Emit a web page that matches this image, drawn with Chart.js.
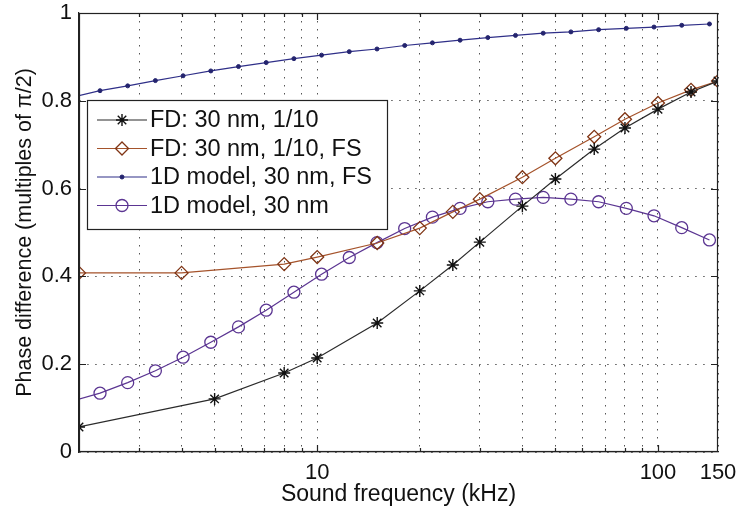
<!DOCTYPE html>
<html>
<head>
<meta charset="utf-8">
<script src="https://cdn.jsdelivr.net/npm/chart.js@4/dist/chart.umd.min.js"></script>
<style>
  html, body { margin: 0; padding: 0; background: #fff; }
</style>
</head>
<body>
<canvas id="phaseChart" width="740" height="513"></canvas>
<script>
// frequencies (kHz) of the FD simulations
const fdFreq   = [2, 5, 8, 10, 15, 20, 25, 30, 40, 50, 65, 80, 100, 125, 150];
const fsFreq   = [2, 4, 8, 10, 15, 20, 25, 30, 40, 50, 65, 80, 100, 125, 150];
const fdPhase  = [0.057, 0.121, 0.180, 0.214, 0.294, 0.367, 0.426, 0.478, 0.560, 0.622, 0.690, 0.738, 0.781, 0.820, 0.845];
const fsPhase  = [0.408, 0.408, 0.428, 0.444, 0.476, 0.510, 0.547, 0.576, 0.626, 0.669, 0.718, 0.758, 0.795, 0.825, 0.845];

// 1D model curves (first point lies just left of the axis, gets clipped)
const modelFreq = [1.911, 2.305, 2.779, 3.351, 4.041, 4.873, 5.875, 7.085, 8.543, 10.30, 12.42, 14.98,
                   18.06, 21.78, 26.26, 31.67, 38.18, 46.04, 55.52, 66.95, 80.73, 97.34, 117.4, 141.6];
const modelFsPhase = [0.808, 0.823, 0.834, 0.846, 0.857, 0.868, 0.878, 0.887, 0.896, 0.904, 0.912, 0.918,
                      0.926, 0.932, 0.938, 0.944, 0.949, 0.954, 0.957, 0.962, 0.965, 0.968, 0.972, 0.975];
const modelPhase   = [0.116, 0.134, 0.158, 0.185, 0.216, 0.250, 0.285, 0.323, 0.364, 0.405, 0.443, 0.477,
                      0.509, 0.535, 0.555, 0.570, 0.576, 0.580, 0.576, 0.570, 0.555, 0.538, 0.511, 0.483];

// axis ticks / grid
const xGridValues = [2, 3, 4, 5, 6, 7, 8, 9, 10, 20, 30, 40, 50, 60, 70, 80, 90, 100, 150];
const xTickLabels = [10, 100, 150];
const xMajor = [10, 100];
const yTickValues = [0, 0.2, 0.4, 0.6, 0.8, 1];
const yTickLabels = ['0', '0.2', '0.4', '0.6', '0.8', '1'];

const FONT = '"Liberation Sans", Arial, Helvetica, sans-serif';

function pairs(xs, ys) {
  return xs.map((x, i) => ({ x: x, y: ys[i] }));
}

// frame on all 4 sides and inward ticks (matlab style)
const frameTicks = {
  id: 'frameTicks',
  afterDatasetsDraw(chart) {
    const ctx = chart.ctx;
    const a = chart.chartArea;
    const xs = chart.scales.x, ys = chart.scales.y;
    ctx.save();
    ctx.strokeStyle = '#222';
    ctx.lineWidth = 1.2;
    ctx.strokeRect(Math.round(a.left) + 0.5, Math.round(a.top) + 0.5,
                   Math.round(a.width) - 1, Math.round(a.height) - 1);
    ctx.beginPath();
    xGridValues.forEach(v => {
      if (v === 2 || v === 150) return;
      const px = Math.round(xs.getPixelForValue(v)) + 0.5;
      const len = xMajor.includes(v) ? 7 : 4;
      ctx.moveTo(px, a.bottom); ctx.lineTo(px, a.bottom - len);
      ctx.moveTo(px, a.top); ctx.lineTo(px, a.top + len);
    });
    yTickValues.forEach(v => {
      if (v === 0 || v === 1) return;
      const py = Math.round(ys.getPixelForValue(v)) + 0.5;
      ctx.moveTo(a.left, py); ctx.lineTo(a.left + 7, py);
      ctx.moveTo(a.right, py); ctx.lineTo(a.right - 7, py);
    });
    ctx.stroke();
    ctx.restore();
  }
};

// boxed legend inside the plot, upper left
const boxLegend = {
  id: 'boxLegend',
  afterDraw(chart) {
    const ctx = chart.ctx;
    const box = { left: 87, top: 100, width: 300, height: 129 };
    ctx.save();
    ctx.fillStyle = '#fff';
    ctx.fillRect(box.left, box.top, box.width, box.height);
    ctx.strokeStyle = '#222';
    ctx.lineWidth = 1.2;
    ctx.strokeRect(box.left + 0.5, box.top + 0.5, box.width, box.height);
    ctx.font = '23.5px ' + FONT;
    ctx.textBaseline = 'middle';
    chart.data.datasets.forEach((ds, i) => {
      const y = box.top + 20 + i * 28.5;
      ctx.strokeStyle = ds.borderColor;
      ctx.lineWidth = ds.borderWidth;
      ctx.beginPath();
      ctx.moveTo(97, y); ctx.lineTo(147, y);
      ctx.stroke();
      ctx.strokeStyle = ds.pointBorderColor;
      ctx.fillStyle = ds.pointBackgroundColor;
      ctx.lineWidth = ds.pointBorderWidth;
      Chart.helpers.drawPoint(ctx, { pointStyle: ds.pointStyle, radius: ds.pointRadius,
                                     borderWidth: ds.pointBorderWidth, rotation: 0 }, 122, y);
      ctx.fillStyle = '#111';
      ctx.fillText(ds.label, 150, y + 1);
    });
    ctx.restore();
  }
};

const ctx = document.getElementById('phaseChart').getContext('2d');
const phaseChart = new Chart(ctx, {
  type: 'line',
  data: {
    datasets: [{
      label: 'FD: 30 nm, 1/10',
      data: pairs(fdFreq, fdPhase),
      borderColor: '#2b2b2b',
      borderWidth: 1.2,
      pointStyle: 'star',
      pointRadius: 6,
      pointBorderWidth: 1.4,
      pointBorderColor: '#111',
      pointBackgroundColor: 'rgba(0,0,0,0)'
    }, {
      label: 'FD: 30 nm, 1/10, FS',
      data: pairs(fsFreq, fsPhase),
      borderColor: '#a5532b',
      borderWidth: 1.2,
      pointStyle: 'rectRot',
      pointRadius: 6.5,
      pointBorderWidth: 1.3,
      pointBorderColor: '#7f3414',
      pointBackgroundColor: 'rgba(0,0,0,0)'
    }, {
      label: '1D model, 30 nm, FS',
      data: pairs(modelFreq, modelFsPhase),
      borderColor: '#2f2f88',
      borderWidth: 1.2,
      pointStyle: 'circle',
      pointRadius: 2,
      pointBorderWidth: 1,
      pointBorderColor: '#24246e',
      pointBackgroundColor: '#24246e'
    }, {
      label: '1D model, 30 nm',
      data: pairs(modelFreq, modelPhase),
      borderColor: '#5b3592',
      borderWidth: 1.2,
      pointStyle: 'circle',
      pointRadius: 6,
      pointBorderWidth: 1.3,
      pointBorderColor: '#5b3592',
      pointBackgroundColor: 'rgba(0,0,0,0)'
    }]
  },
  options: {
    responsive: false,
    animation: false,
    layout: { padding: { top: 13, right: 22, bottom: 5, left: 0 } },
    elements: { line: { tension: 0 } },
    plugins: {
      legend: { display: false },
      tooltip: { enabled: false }
    },
    scales: {
      x: {
        type: 'logarithmic',
        min: 2,
        max: 150,
        afterBuildTicks: s => { s.ticks = xGridValues.map(v => ({ value: v })); },
        afterFit: s => { s.height = 56; s.paddingLeft = 0; s.paddingRight = 0; },
        ticks: {
          autoSkip: false,
          maxRotation: 0,
          padding: 8,
          color: '#111',
          font: { size: 22, family: FONT },
          callback: v => xTickLabels.includes(v) ? String(v) : ''
        },
        grid: { color: '#555', lineWidth: 1, drawTicks: false },
        border: { display: true, color: '#222', width: 1.2, dash: [1.5, 6.5] },
        title: {
          display: true,
          text: 'Sound frequency (kHz)',
          color: '#111',
          font: { size: 23, family: FONT },
          padding: { top: 0, bottom: 0 }
        }
      },
      y: {
        min: 0,
        max: 1,
        afterBuildTicks: s => { s.ticks = yTickValues.map(v => ({ value: v })); },
        afterFit: s => { s.width = 79; s.paddingTop = 0; s.paddingBottom = 0; },
        ticks: {
          padding: 7,
          color: '#111',
          font: { size: 22, family: FONT },
          callback: (v, i) => yTickLabels[i]
        },
        grid: { color: '#555', lineWidth: 1, drawTicks: false },
        border: { display: true, color: '#222', width: 1.2, dash: [1.5, 6.5] },
        title: {
          display: true,
          text: 'Phase difference (multiples of π/2)',
          color: '#111',
          font: { size: 21.5, family: FONT },
          padding: { top: 12, bottom: 0 }
        }
      }
    }
  },
  plugins: [frameTicks, boxLegend]
});
</script>
</body>
</html>
